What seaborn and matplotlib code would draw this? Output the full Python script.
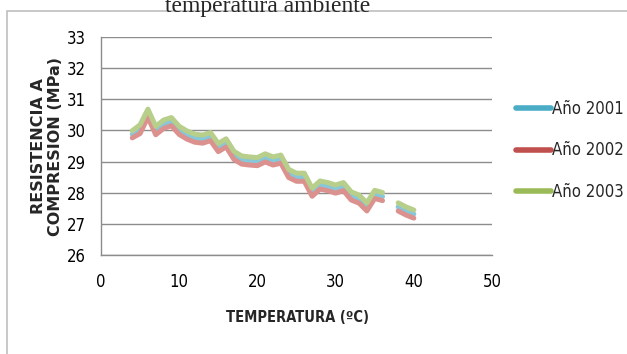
import numpy as np
import pandas as pd
import seaborn as sns
import matplotlib
matplotlib.use("Agg")
import matplotlib.pyplot as plt
from matplotlib.lines import Line2D
from matplotlib.patches import Rectangle

# Temperatures (ºC); no readings at 37 ºC
temperatura = [4, 5, 6, 7, 8, 9, 10, 11, 12, 13, 14, 15, 16, 17, 18, 19, 20,
               21, 22, 23, 24, 25, 26, 27, 28, 29, 30, 31, 32, 33, 34, 35, 36,
               37, 38, 39, 40]

anio_2001 = [29.88, 30.05, 30.55, 30.00, 30.20, 30.28, 30.00, 29.85, 29.75, 29.72,
             29.80, 29.45, 29.60, 29.20, 29.05, 29.02, 29.00, 29.12, 29.02, 29.08,
             28.62, 28.50, 28.50, 28.02, 28.25, 28.20, 28.12, 28.20, 27.90, 27.80,
             27.55, 27.95, 27.88, np.nan, 27.55, 27.42, 27.32]

anio_2002 = [29.76, 29.90, 30.42, 29.86, 30.06, 30.15, 29.87, 29.72, 29.62, 29.59,
             29.67, 29.32, 29.47, 29.07, 28.92, 28.89, 28.87, 28.99, 28.89, 28.95,
             28.49, 28.37, 28.37, 27.89, 28.12, 28.07, 27.99, 28.07, 27.77, 27.67,
             27.42, 27.82, 27.75, np.nan, 27.42, 27.29, 27.19]

anio_2003 = [29.99, 30.18, 30.68, 30.13, 30.33, 30.41, 30.13, 29.98, 29.88, 29.85,
             29.93, 29.58, 29.73, 29.33, 29.18, 29.15, 29.13, 29.25, 29.15, 29.21,
             28.75, 28.63, 28.63, 28.15, 28.38, 28.33, 28.25, 28.33, 28.03, 27.93,
             27.68, 28.08, 28.01, np.nan, 27.68, 27.55, 27.45]

series = ["Año 2001", "Año 2002", "Año 2003"]
legend_colors = ["#4BACC6", "#C0504D", "#9BBB59"]
line_colors = ["#86c7d9", "#db928f", "#b7cf8a"]

df = pd.DataFrame({"Temperatura": temperatura,
                   "Año 2001": anio_2001,
                   "Año 2002": anio_2002,
                   "Año 2003": anio_2003})
long = df.melt(id_vars="Temperatura", var_name="Serie", value_name="Resistencia")

sns.set_theme(style="white")
narrow = ["DejaVu Sans"]
plt.rcParams["font.family"] = narrow
plt.rcParams["font.stretch"] = "condensed"

fig = plt.figure(figsize=(6.27, 3.54), dpi=100)
W, H = 627, 354
ax = fig.add_axes([101 / W, 1 - 255.3 / H, (492 - 101) / W, (255.3 - 36.7) / H])

# chart frame
fig.patches.append(Rectangle((7 / W, -0.1), 1.2, 1 - 11 / H + 0.1,
                             transform=fig.transFigure, fill=False,
                             edgecolor="#bfbfbf", linewidth=1.2, zorder=0))

# the missing 37 ºC reading leaves a gap in every series
for s, c in zip(series, line_colors):
    sub = long[long["Serie"] == s]
    ax.plot(sub["Temperatura"], sub["Resistencia"], color=c, lw=3.6,
            solid_capstyle="round", solid_joinstyle="round", zorder=3)

ax.set_xlim(0, 50)
ax.set_ylim(26, 33)
ax.set_xticks(range(0, 51, 10))
ax.set_yticks(range(26, 34))
ax.yaxis.grid(True, color="#8c8c8c", lw=1.0)
ax.xaxis.grid(False)
for side in ["top", "right"]:
    ax.spines[side].set_visible(False)
for side in ["left", "bottom"]:
    ax.spines[side].set_color("#8c8c8c")
    ax.spines[side].set_linewidth(1.0)
ax.tick_params(axis="both", which="major", length=5, width=1, color="#8c8c8c",
               direction="out", labelsize=12, labelcolor="#000000")
ax.tick_params(axis="y", pad=6)
ax.tick_params(axis="x", pad=8)
ax.set_xlabel("")
ax.set_ylabel("")

fig.text(297 / W, 1 - 318 / H, "TEMPERATURA (ºC)", ha="center", va="center",
         fontsize=10.5, fontweight="bold", family=narrow, fontstretch="condensed")
fig.text(47 / W, 1 - 146 / H, "RESISTENCIA A\nCOMPRESION (MPa)", ha="center",
         va="center", rotation=90, fontsize=11.5, fontweight="bold",
         family=["DejaVu Sans"], fontstretch="normal", linespacing=1.2)

fig.text(268 / W, 1 - 12 / H, "temperatura ambiente", ha="center", va="baseline",
         fontsize=17, family=["Liberation Serif", "DejaVu Serif"])

handles = [Line2D([0], [0], color=c, lw=4) for c in legend_colors]
fig.legend(handles, series, loc="upper left", bbox_to_anchor=(516 / W, 1 - 100 / H),
           frameon=False, fontsize=12, handlelength=2.1, handletextpad=0.05,
           labelspacing=1.4, borderpad=0, borderaxespad=0)

fig.savefig("out.png", dpi=100)
